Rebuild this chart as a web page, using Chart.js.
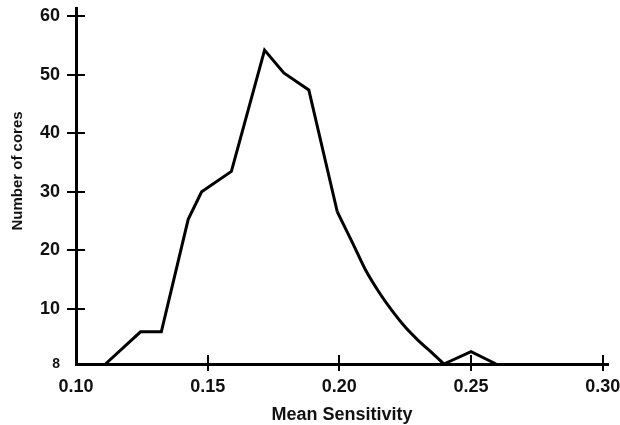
<!DOCTYPE html>
<html>
<head>
<meta charset="utf-8">
<script src="https://cdn.jsdelivr.net/npm/chart.js@4.4.1/dist/chart.umd.min.js"></script>
<style>
  html, body { margin: 0; padding: 0; background: #fff; }
  canvas { display: block; }
</style>
</head>
<body>
<canvas id="c" width="620" height="425"></canvas>
<script>
// ---- data ----
// rising part and peak (straight segments)
const sensitivityRise = [0.1112, 0.1245, 0.1324, 0.1426, 0.1477, 0.1590, 0.1716, 0.1789, 0.1884, 0.1992];
const coresRise       = [0.6,    6.1,    6.1,    25.3,   30.0,   33.5,   54.2,   50.3,   47.4,   26.6];
// smooth falling tail
const sensitivityTail = [0.1992, 0.2050, 0.2100, 0.2150, 0.2200, 0.2250, 0.2300, 0.2350, 0.2397];
const coresTail       = [26.6,   21.3,   16.6,   12.9,   9.7,    6.9,    4.6,    2.6,    0.6];
// small bump at 0.25
const sensitivityBump = [0.2397, 0.2500, 0.2595];
const coresBump       = [0.6,    2.7,    0.6];

const xTickValues = [0.10, 0.15, 0.20, 0.25, 0.30];
const xTickLabels = ['0.10', '0.15', '0.20', '0.25', '0.30'];
const yTickValues = [0.6, 10, 20, 30, 40, 50, 60];
const yTickLabels = ['8', '10', '20', '30', '40', '50', '60'];

const xTitle = 'Mean Sensitivity';
const yTitle = 'Number of cores';

const toPts = (xs, ys) => xs.map((v, i) => ({ x: v, y: ys[i] }));

const FONT = '"Liberation Sans", Arial, Helvetica, sans-serif';

const lineStyle = {
  borderColor: '#000',
  borderWidth: 3,
  pointRadius: 0,
  fill: false,
  clip: 6,
  borderJoinStyle: 'miter',
  borderCapStyle: 'butt'
};

const crossTicks = {
  id: 'crossTicks',
  afterDraw(chart) {
    const { ctx, scales: { x, y }, chartArea } = chart;
    ctx.save();
    ctx.strokeStyle = '#000';
    ctx.lineWidth = 2;
    y.ticks.forEach((t, i) => {
      if (i === 0) return;
      const py = Math.round(y.getPixelForValue(t.value));
      ctx.beginPath();
      ctx.moveTo(chartArea.left - 9, py);
      ctx.lineTo(chartArea.left + 9, py);
      ctx.stroke();
    });
    x.ticks.forEach((t, i) => {
      if (i === 0) return;
      const px = Math.round(x.getPixelForValue(t.value));
      ctx.beginPath();
      ctx.moveTo(px, chartArea.bottom - 9);
      ctx.lineTo(px, chartArea.bottom + 7);
      ctx.stroke();
    });
    // y axis title
    ctx.translate(18, 171);
    ctx.rotate(-Math.PI / 2);
    ctx.font = 'bold 15px ' + FONT;
    ctx.textAlign = 'center';
    ctx.textBaseline = 'middle';
    ctx.fillStyle = '#111';
    ctx.fillText(yTitle, 0, 0);
    ctx.restore();
  }
};

new Chart(document.getElementById('c'), {
  type: 'line',
  data: {
    datasets: [
      Object.assign({ label: 'rise', data: toPts(sensitivityRise, coresRise), tension: 0 }, lineStyle),
      Object.assign({ label: 'tail', data: toPts(sensitivityTail, coresTail), cubicInterpolationMode: 'monotone' }, lineStyle),
      Object.assign({ label: 'bump', data: toPts(sensitivityBump, coresBump), tension: 0 }, lineStyle)
    ]
  },
  options: {
    responsive: false,
    devicePixelRatio: 1,
    animation: false,
    events: [],
    layout: { padding: { top: 8, right: 12, left: 0, bottom: 0 } },
    plugins: { legend: { display: false }, tooltip: { enabled: false } },
    scales: {
      x: {
        type: 'linear',
        min: 0.10,
        max: 0.3020,
        afterFit(s) { s.height = 61; s.paddingLeft = 0; s.paddingRight = 0; },
        afterBuildTicks(s) { s.ticks = xTickValues.map(v => ({ value: v })); },
        grid: { display: true, drawOnChartArea: false, drawTicks: false },
        border: { display: true, color: '#000', width: 3 },
        ticks: {
          padding: 12,
          color: '#111',
          font: { family: FONT, size: 18, weight: 'bold' },
          maxRotation: 0,
          callback: (v, i) => xTickLabels[i]
        },
        title: {
          display: true,
          text: xTitle,
          color: '#111',
          font: { family: FONT, size: 18, weight: 'bold', lineHeight: 1 },
          padding: { top: 0, bottom: 1 }
        }
      },
      y: {
        type: 'linear',
        min: 0.6,
        max: 61.4,
        afterFit(s) { s.width = 76; s.paddingTop = 0; s.paddingBottom = 0; },
        afterBuildTicks(s) { s.ticks = yTickValues.map(v => ({ value: v })); },
        grid: { display: true, drawOnChartArea: false, drawTicks: false },
        border: { display: true, color: '#000', width: 3 },
        ticks: {
          padding: 16,
          color: '#111',
          font: (c) => (c.index === 0 ? { family: FONT, size: 14, weight: 'bold' } : { family: FONT, size: 18, weight: 'bold' }),
          callback: (v, i) => yTickLabels[i]
        }
      }
    }
  },
  plugins: [crossTicks]
});
</script>
</body>
</html>
